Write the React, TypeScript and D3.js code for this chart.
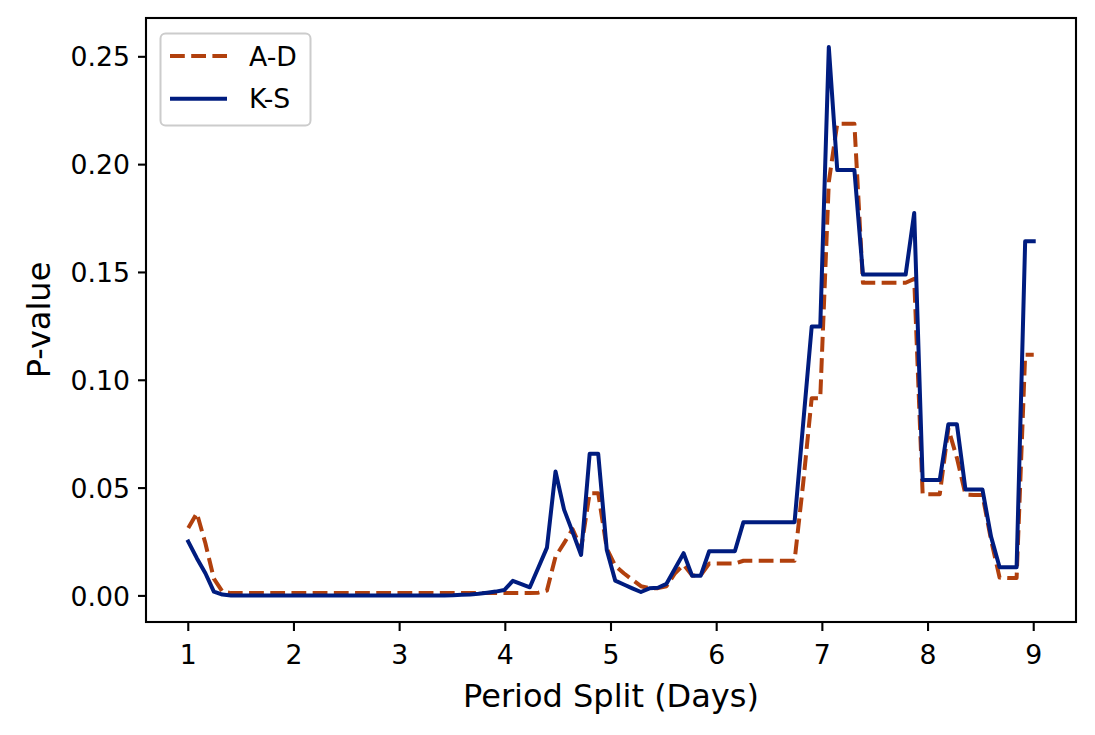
import React from "react";
import * as d3 from "d3";

const periodSplit: number[] = [
  1.000, 1.081, 1.162, 1.242, 1.323, 1.404, 1.485, 1.566, 1.646, 1.727,
  1.808, 1.889, 1.970, 2.051, 2.131, 2.212, 2.293, 2.374, 2.455, 2.535,
  2.616, 2.697, 2.778, 2.859, 2.939, 3.020, 3.101, 3.182, 3.263, 3.343,
  3.424, 3.505, 3.586, 3.667, 3.747, 3.828, 3.909, 3.990, 4.071, 4.152,
  4.232, 4.313, 4.394, 4.475, 4.556, 4.636, 4.717, 4.798, 4.879, 4.960,
  5.040, 5.121, 5.202, 5.283, 5.364, 5.444, 5.525, 5.606, 5.687, 5.768,
  5.848, 5.929, 6.010, 6.091, 6.172, 6.253, 6.333, 6.414, 6.495, 6.576,
  6.657, 6.737, 6.818, 6.899, 6.980, 7.061, 7.141, 7.222, 7.303, 7.384,
  7.465, 7.545, 7.626, 7.707, 7.788, 7.869, 7.949, 8.030, 8.111, 8.192,
  8.273, 8.354, 8.434, 8.515, 8.596, 8.677, 8.758, 8.838, 8.919, 9.000,
];

const adValues: number[] = [
  0.0315, 0.0384, 0.0244, 0.0080, 0.0020, 0.0013, 0.0013, 0.0013, 0.0013, 0.0013,
  0.0013, 0.0013, 0.0013, 0.0013, 0.0013, 0.0013, 0.0013, 0.0013, 0.0013, 0.0013,
  0.0013, 0.0013, 0.0013, 0.0013, 0.0013, 0.0013, 0.0013, 0.0013, 0.0013, 0.0013,
  0.0013, 0.0013, 0.0013, 0.0013, 0.0013, 0.0013, 0.0013, 0.0013, 0.0013, 0.0013,
  0.0013, 0.0015, 0.0025, 0.0182, 0.0245, 0.0310, 0.0220, 0.0476, 0.0476, 0.0220,
  0.0140, 0.0105, 0.0075, 0.0045, 0.0036, 0.0036, 0.0045, 0.0105, 0.0145, 0.0095,
  0.0095, 0.0150, 0.0150, 0.0150, 0.0150, 0.0163, 0.0163, 0.0163, 0.0163, 0.0163,
  0.0163, 0.0163, 0.0520, 0.0917, 0.0917, 0.1920, 0.2190, 0.2190, 0.2190, 0.1452,
  0.1452, 0.1452, 0.1452, 0.1452, 0.1452, 0.1470, 0.0472, 0.0472, 0.0472, 0.0775,
  0.0640, 0.0470, 0.0468, 0.0468, 0.0260, 0.0085, 0.0083, 0.0083, 0.1118, 0.1118,
];

const ksValues: number[] = [
  0.0252, 0.0175, 0.0105, 0.0020, 0.0006, 0.0002, 0.0002, 0.0002, 0.0002, 0.0002,
  0.0002, 0.0002, 0.0002, 0.0002, 0.0002, 0.0002, 0.0002, 0.0002, 0.0002, 0.0002,
  0.0002, 0.0002, 0.0002, 0.0002, 0.0002, 0.0002, 0.0002, 0.0002, 0.0002, 0.0002,
  0.0002, 0.0003, 0.0005, 0.0007, 0.0010, 0.0015, 0.0020, 0.0027, 0.0070, 0.0055,
  0.0040, 0.0132, 0.0224, 0.0577, 0.0400, 0.0297, 0.0190, 0.0659, 0.0659, 0.0213,
  0.0071, 0.0053, 0.0035, 0.0018, 0.0035, 0.0038, 0.0056, 0.0127, 0.0198, 0.0093,
  0.0093, 0.0207, 0.0207, 0.0207, 0.0207, 0.0342, 0.0342, 0.0342, 0.0342, 0.0342,
  0.0342, 0.0342, 0.0797, 0.1249, 0.1249, 0.2545, 0.1975, 0.1975, 0.1975, 0.1490,
  0.1490, 0.1490, 0.1490, 0.1490, 0.1490, 0.1776, 0.0538, 0.0538, 0.0538, 0.0796,
  0.0796, 0.0493, 0.0493, 0.0493, 0.0275, 0.0133, 0.0133, 0.0133, 0.1645, 0.1645,
];

const xTicks: number[] = [1, 2, 3, 4, 5, 6, 7, 8, 9];
const yTicks: number[] = [0, 0.05, 0.1, 0.15, 0.2, 0.25];

const seriesNames: string[] = ["A-D", "K-S"];
const seriesColors: string[] = ["#b1400d", "#001c7f"];

const W = 1095;
const H = 735;
const M = { left: 146, right: 1076, top: 18, bottom: 622 };
const FONT = "'DejaVu Sans', sans-serif";
const TICK_FS = 26.7;
const LABEL_FS = 32;
const LW = 4;
const DASH = "14.8 6.4";

export default function App() {
  const x = d3.scaleLinear().domain([0.6, 9.4]).range([M.left, M.right]);
  const y = d3.scaleLinear().domain([-0.0121, 0.268]).range([M.bottom, M.top]);

  const line = d3
    .line<number>()
    .x((_, i) => x(periodSplit[i]))
    .y((d) => y(d));

  const fmt = d3.format(".2f");
  const tickLen = 8;
  const tickPad = 8;

  return (
    <svg
      width={W}
      height={H}
      style={{ position: "absolute", left: 0, top: 0, background: "#fff" }}
      fontFamily={FONT}
    >
      <rect x={0} y={0} width={W} height={H} fill="#fff" />
      <defs>
        <clipPath id="plotclip">
          <rect x={M.left} y={M.top} width={M.right - M.left} height={M.bottom - M.top} />
        </clipPath>
      </defs>

      <g clipPath="url(#plotclip)">
        <path
          d={line(adValues) || ""}
          fill="none"
          stroke={seriesColors[0]}
          strokeWidth={LW}
          strokeDasharray={DASH}
          strokeLinejoin="round"
        />
        <path
          d={line(ksValues) || ""}
          fill="none"
          stroke={seriesColors[1]}
          strokeWidth={LW}
          strokeLinejoin="round"
          strokeLinecap="square"
        />
      </g>

      {/* spines */}
      <rect
        x={M.left}
        y={M.top}
        width={M.right - M.left}
        height={M.bottom - M.top}
        fill="none"
        stroke="#000"
        strokeWidth={2.1}
      />

      {/* x ticks */}
      {xTicks.map((t) => (
        <g key={"x" + t}>
          <line x1={x(t)} x2={x(t)} y1={M.bottom} y2={M.bottom + tickLen + 1} stroke="#000" strokeWidth={2.1} />
          <text x={x(t)} y={M.bottom + 42} fontSize={TICK_FS} textAnchor="middle" fill="#000">
            {String(t)}
          </text>
        </g>
      ))}

      {/* y ticks */}
      {yTicks.map((t) => (
        <g key={"y" + t}>
          <line x1={M.left - tickLen} x2={M.left} y1={y(t)} y2={y(t)} stroke="#000" strokeWidth={2.1} />
          <text
            x={M.left - tickLen - tickPad}
            y={y(t) + 9.6}
            fontSize={TICK_FS}
            textAnchor="end"
            fill="#000"
          >
            {fmt(t)}
          </text>
        </g>
      ))}

      {/* axis labels */}
      <text x={(M.left + M.right) / 2} y={707} fontSize={LABEL_FS} textAnchor="middle" fill="#000">
        Period Split (Days)
      </text>
      <text
        transform={`translate(49.5, ${(M.top + M.bottom) / 2}) rotate(-90)`}
        fontSize={LABEL_FS}
        textAnchor="middle"
        fill="#000"
      >
        P-value
      </text>

      {/* legend */}
      <g>
        <rect
          x={160.5}
          y={33.5}
          width={150}
          height={92}
          rx={5}
          ry={5}
          fill="#fff"
          fillOpacity={0.8}
          stroke="#cccccc"
          strokeWidth={2}
        />
        {seriesNames.map((name, i) => {
          const ly = i === 0 ? 56 : 98.7;
          return (
            <g key={name}>
              <line
                x1={170}
                x2={227}
                y1={ly}
                y2={ly}
                stroke={seriesColors[i]}
                strokeWidth={LW}
                strokeDasharray={i === 0 ? DASH : undefined}
              />
              <text x={249} y={ly + 9.6} fontSize={TICK_FS} fill="#000">
                {name}
              </text>
            </g>
          );
        })}
      </g>
    </svg>
  );
}
